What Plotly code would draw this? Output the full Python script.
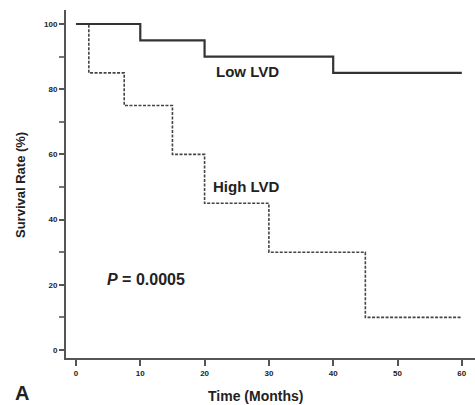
import plotly.graph_objects as go

low_time = [0, 10, 20, 40, 60]
low_surv = [100, 95, 90, 85, 85]
high_time = [0, 2, 7.5, 15, 20, 30, 45, 60]
high_surv = [100, 85, 75, 60, 45, 30, 10, 10]
x_ticks = [0, 10, 20, 30, 40, 50, 60]
y_ticks = [0, 20, 40, 60, 80, 100]

FONT = "Liberation Sans"
INK = "#222222"

fig = go.Figure()
fig.add_trace(go.Scatter(x=high_time, y=high_surv, mode="lines", line_shape="hv",
                         line=dict(color="#444444", width=1.6, dash="3px,1.5px"),
                         showlegend=False))
fig.add_trace(go.Scatter(x=low_time, y=low_surv, mode="lines", line_shape="hv",
                         line=dict(color="#333333", width=2.2), showlegend=False))

fig.update_layout(
    width=475, height=405,
    margin=dict(l=66, r=0, t=10, b=47, autoexpand=False),
    paper_bgcolor="white", plot_bgcolor="white",
    font=dict(family=FONT, color=INK),
    xaxis=dict(range=[-1.55, 62.05], tickvals=x_ticks, ticktext=[str(v) for v in x_ticks],
               showgrid=False, zeroline=False, showline=True, linecolor="#555555", linewidth=2,
               ticks="outside", ticklen=6, tickwidth=1.5, tickcolor="#555555", automargin=False,
               tickfont=dict(size=8, family=FONT, weight="bold", color=INK)),
    yaxis=dict(range=[-2.45, 104.3], tickvals=y_ticks, ticktext=[str(v) for v in y_ticks],
               showgrid=False, zeroline=False, showline=True, linecolor="#555555", linewidth=2,
               ticks="outside", ticklen=5, tickwidth=1.5, tickcolor="#555555", automargin=False,
               minor=dict(dtick=10, tick0=0, ticks="outside", ticklen=5, tickwidth=1.5, tickcolor="#777777"),
               tickfont=dict(size=8, family=FONT, weight="bold", color=INK)),
)

data_ann = [
    (26.6, 85.3, "<b>Low LVD</b>", 15),
    (26.5, 50.3, "<b>High LVD</b>", 15),
    (10.9, 21.5, "<b><i>P</i> = 0.0005</b>", 16),
]
for x, y, t, s in data_ann:
    fig.add_annotation(x=x, y=y, xref="x", yref="y", text=t, showarrow=False,
                       font=dict(size=s, family=FONT, color=INK))

# paper annotations given in pixel positions, converted to paper coords
W, H = 475, 405
L, R, T, B = 66, 0, 10, 47
pw, ph = W - L - R, H - T - B
paper_ann = [
    (255, 396, "<b>Time (Months)</b>", 14, 0),
    (22, 393, "<b>A</b>", 20, 0),
    (20, 185, "<b>Survival Rate (%)</b>", 13, -90),
]
for px, py, t, s, ang in paper_ann:
    fig.add_annotation(x=(px - L) / pw, y=(H - B - py) / ph, xref="paper", yref="paper",
                       text=t, textangle=ang, showarrow=False, xanchor="center", yanchor="middle",
                       font=dict(size=s, family=FONT, color=INK))

fig.write_html("out.html", config={"displayModeBar": False},
               post_script="document.body.style.margin='0';document.body.style.padding='0';")
